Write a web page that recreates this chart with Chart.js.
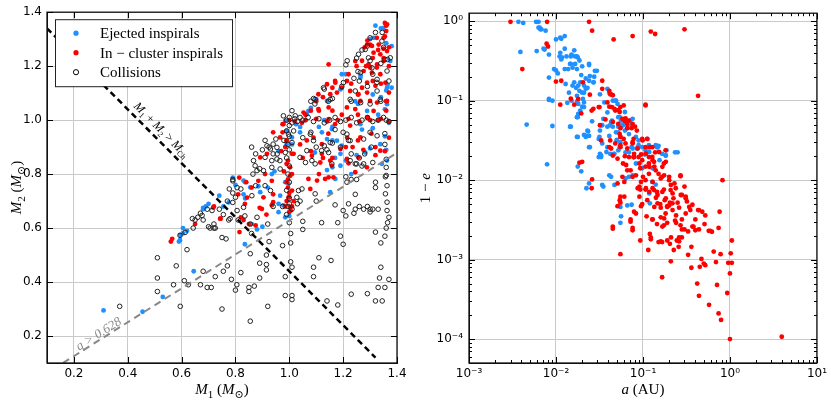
<!DOCTYPE html>
<html><head><meta charset="utf-8">
<script src="https://cdn.jsdelivr.net/npm/chart.js@4.4.1/dist/chart.umd.min.js"></script>
<style>
html,body{margin:0;padding:0;background:#fff;}
body{width:831px;height:403px;overflow:hidden;position:relative;}
#c1{position:absolute;left:0;top:0;width:415px;height:403px;}
#c2{position:absolute;left:415px;top:0;width:416px;height:403px;}
</style>
</head><body>
<canvas id="c1" width="415" height="403"></canvas>
<canvas id="c2" width="416" height="403"></canvas>
<script>
// ---------------- LEFT PANEL DATA: [M1, M2] ----------------
const ejectedMass = [
[0.31,0.295],[0.455,0.29],[0.53,0.345],[0.645,0.44],[0.605,0.58],[0.59,0.55],[0.595,0.575],[0.62,0.59],[0.68,0.675],[0.69,0.68],
[0.775,0.695],[0.835,0.54],[0.88,0.595],[0.90,0.605],[0.96,0.69],[0.985,0.64],[1.0,0.645],[0.86,0.615],
[1.32,1.35],[1.34,1.34],[1.30,1.30],[1.36,1.285],[1.21,1.17],[1.265,1.165],[1.36,1.11],[1.365,1.13],[1.36,1.07],[1.34,1.085],
[1.31,1.095],[1.245,1.07],[1.255,1.06],[1.08,1.045],[1.13,1.0],[1.355,1.04],[1.16,0.975],[1.11,0.975],[1.04,0.975],[1.14,0.93],
[1.16,0.925],[1.27,0.965],[1.31,0.97],[1.355,0.94],[1.25,0.87],[1.21,0.85],[1.30,0.895],[1.36,0.89],[1.19,0.875],[1.17,0.86],
[1.095,0.88],[1.14,0.815],[1.16,0.825],[1.04,0.955],[1.025,0.985],[0.96,0.885],[0.945,0.81],[0.935,0.80],[0.885,0.755],[0.83,0.725],
[0.92,0.75],[0.985,0.77],[1.01,0.91],[1.23,0.80],[0.79,0.787],[0.836,0.77],[0.836,0.71],[0.755,0.68],[0.68,0.67],[0.605,0.60],
[0.594,0.555],[0.70,0.69],[0.74,0.72],[0.80,0.76],[1.37,0.99],[1.33,1.02],[1.06,1.0],
[1.065,1.022],[1.121,0.955],[1.158,0.967],[1.177,0.924],[1.195,0.905],[1.264,0.985],[1.282,0.88],[1.338,0.911],[1.363,0.85],[1.344,0.838],
[1.19,0.831],[1.152,0.733],[1.171,0.782],[0.99,0.911],[1.01,0.936],[0.99,0.96],[0.985,0.997],[0.83,0.776],[0.855,0.751],[0.892,0.733],
[0.966,0.72],[0.978,0.684],[0.96,0.659],[0.997,0.764],[1.35,1.342],[1.313,1.305],[1.38,1.274],[1.375,1.219],[1.38,1.12],[1.363,1.12],
[1.264,1.157],[1.195,1.17],[1.19,1.114],[1.14,1.071],[1.363,1.059],[1.289,1.034],[1.071,1.034],[1.10,1.077]
];
const inClusterMass = [
[1.355,1.36],[1.36,1.35],[1.36,1.33],[1.355,1.31],[1.325,1.305],[1.29,1.295],[1.30,1.28],[1.28,1.27],[1.33,1.26],[1.35,1.265],
[1.31,1.23],[1.27,1.22],[1.285,1.20],[1.325,1.195],[1.30,1.195],[1.35,1.23],[1.31,1.145],[1.34,1.135],[1.22,1.17],[1.23,1.135],
[1.27,1.12],[1.255,1.095],[1.17,1.145],[1.16,1.12],[1.125,1.085],[1.10,1.07],[1.11,1.035],[1.08,1.035],[1.06,1.02],[1.16,1.035],
[1.195,1.02],[1.255,1.02],[1.29,1.01],[1.36,1.07],[1.36,1.035],
[1.0,1.0],[1.02,0.995],[1.06,1.0],[1.10,1.005],[1.14,0.995],[1.18,1.0],[1.22,1.005],[1.26,0.995],[1.30,1.0],[1.34,1.005],[1.37,0.995],
[1.04,0.91],[1.065,0.925],[1.09,0.935],[1.145,0.95],[1.17,0.985],[1.215,0.935],[1.235,0.90],[1.255,0.925],[1.305,0.95],[1.37,0.935],
[1.355,0.885],[1.32,0.87],[1.275,0.89],[1.22,0.84],[1.21,0.90],[1.16,0.86],[1.125,0.86],[1.08,0.885],[1.05,0.86],[1.11,0.80],[1.01,0.80],
[0.975,0.985],[0.975,0.955],[0.99,0.925],[0.97,0.885],[0.995,0.85],[0.98,0.81],[0.935,0.775],[0.91,0.80],[0.885,0.775],[0.86,0.75],
[0.84,0.77],[0.81,0.725],[0.94,0.725],[0.995,0.75],[1.0,0.715],[1.01,0.875],
[0.56,0.55],[0.565,0.56],[0.65,0.615],[0.72,0.68],[0.745,0.635],[0.815,0.585],[0.82,0.64],[0.835,0.69],[0.85,0.615],[0.875,0.61],
[0.89,0.675],[0.915,0.65],[0.935,0.685],[1.0,0.66],[1.005,0.665],[1.01,0.68],[0.985,0.68],[0.717,0.676],[0.743,0.635],[0.814,0.787],
[0.843,0.713],[0.83,0.63],[0.99,0.70],[1.0,0.73],[0.995,0.78],[0.985,0.90],[1.37,1.27],[1.37,1.2],
[0.978,0.985],[1.047,0.99],[1.146,1.004],[1.226,0.98],[1.33,1.0],[1.264,0.936],[1.32,0.90],[1.338,0.887],[1.257,0.862],[1.214,0.856],
[1.19,0.893],[1.121,0.911],[1.121,0.875],[1.115,0.843],[1.084,0.868],[1.152,0.85],[1.158,0.831],[1.164,0.788],[1.146,0.788],[1.245,0.807],
[1.288,0.825],[1.103,0.776],[1.071,0.782],[1.003,0.825],[1.016,0.875],[0.99,0.924],[0.99,0.838],[1.003,0.794],[0.99,0.77],[1.01,0.739],
[0.997,0.714],[1.016,0.70],[1.003,0.677],[0.898,0.671],[0.904,0.714],[0.94,0.696],[0.892,0.862],[0.917,0.875],[0.94,0.955],[0.966,0.936],
[1.078,0.745],[1.133,0.782],
[1.363,1.355],[1.35,1.305],[1.332,1.28],[1.307,1.275],[1.289,1.28],[1.313,1.25],[1.338,1.244],[1.363,1.256],[1.35,1.219],[1.326,1.207],
[1.294,1.207],[1.276,1.182],[1.307,1.176],[1.338,1.17],[1.357,1.139],[1.37,1.102],[1.32,1.127],[1.289,1.139],[1.245,1.219],[1.25,1.20],
[1.214,1.145],[1.226,1.108],[1.257,1.096],[1.289,1.102],[1.264,1.071],[1.30,1.071],[1.326,1.065],[1.363,1.071],[1.195,1.12],[1.177,1.102],
[1.152,1.096],[1.14,1.133],[1.171,1.139],[1.108,1.041],[1.146,1.047],[1.108,1.096],[1.214,1.047],[1.245,1.041],[1.313,1.034],[1.053,1.028],
[1.146,1.207]
];
const collisionMass = [
[0.37,0.31],[0.51,0.49],[0.51,0.415],[0.51,0.365],[0.58,0.46],[0.595,0.31],[0.61,0.405],[0.62,0.52],[0.625,0.39],[0.57,0.39],
[0.67,0.39],[0.68,0.44],[0.695,0.38],[0.71,0.38],[0.725,0.42],[0.75,0.565],[0.765,0.56],[0.75,0.30],[0.755,0.44],[0.77,0.46],
[0.785,0.41],[0.805,0.39],[0.80,0.37],[0.82,0.435],[0.85,0.38],[0.85,0.365],[0.855,0.255],[0.855,0.505],[0.87,0.385],[0.89,0.47],
[0.89,0.415],[0.915,0.50],[0.915,0.465],[0.915,0.445],[0.92,0.31],[0.925,0.55],[0.975,0.535],[0.985,0.42],[0.985,0.35],[1.005,0.475],
[1.005,0.545],[1.005,0.58],[1.01,0.455],[1.01,0.35],[1.01,0.335],[1.05,0.595],[1.05,0.625],[1.09,0.42],[1.09,0.455],[1.11,0.49],
[1.12,0.62],[1.14,0.33],[1.155,0.48],[1.18,0.315],[1.18,0.62],[1.19,0.57],[1.20,0.54],[1.21,0.645],[1.23,0.355],[1.24,0.655],
[1.29,0.357],[1.30,0.66],[1.32,0.585],[1.32,0.33],[1.33,0.38],[1.335,0.415],[1.34,0.455],[1.34,0.545],[1.345,0.33],[1.355,0.38],
[1.355,0.57],[1.365,0.62],[1.37,0.64],[1.37,0.41],[1.36,0.60],[1.31,0.67],[1.33,0.67],[1.29,0.68],[1.26,0.68],[1.22,0.69],
[0.64,0.635],[0.66,0.64],[0.67,0.655],[0.68,0.63],[0.70,0.605],[0.72,0.615],[0.72,0.60],[0.74,0.67],[0.755,0.65],[0.775,0.63],
[0.79,0.695],[0.81,0.63],[0.835,0.645],[0.855,0.615],[0.86,0.58],[0.88,0.64],[0.92,0.615],[0.94,0.68],[0.975,0.68],[1.01,0.67],
[1.03,0.69],[1.0,0.69],[0.79,0.78],[0.806,0.75],[0.79,0.73],[0.82,0.745],[0.77,0.70],[0.806,0.665],[0.695,0.67],[0.713,0.665],
[0.676,0.647],[0.65,0.63],[0.643,0.60],[0.613,0.584],[0.594,0.573],[0.706,0.60],[0.725,0.60],[0.78,0.635],
[0.777,0.745],[0.79,0.775],[0.80,0.714],[0.86,0.90],[0.875,0.875],[0.90,0.89],[0.91,0.925],[0.925,0.90],[0.935,0.85],[0.95,0.93],
[0.955,0.875],[0.98,0.925],[0.985,0.88],[0.965,0.85],[0.865,0.80],[0.89,0.82],[0.875,0.757],[0.91,0.757],[0.935,0.825],[1.01,1.035],
[1.04,1.01],[1.08,1.07],[1.09,1.08],[1.095,1.06],[1.13,1.115],[1.145,1.07],[1.16,1.08],[1.195,1.125],[1.21,1.205],[1.215,1.22],
[1.25,1.23],[1.255,1.18],[1.26,1.145],[1.27,1.26],[1.29,1.275],[1.30,1.305],[1.32,1.325],[1.345,1.325],[1.35,1.27],[1.355,1.225],
[1.365,1.225],[1.34,1.21],[1.30,1.22],[1.31,1.17],[1.325,1.14],[1.29,1.125],[1.24,1.155],[1.23,1.07],[1.265,1.065],[1.30,1.06],
[1.34,1.07],[1.355,0.95],[1.355,0.91],[1.36,0.855],[1.36,0.825],[1.36,0.795],[1.305,0.90],[1.28,0.875],[1.26,0.86],[1.23,0.875],
[1.22,0.925],[1.245,0.838],[1.27,0.83],[1.19,0.90],[1.16,0.915],[1.14,0.89],[1.13,0.905],[1.10,0.90],[1.08,0.955],[1.05,0.935],
[1.21,0.79],[1.23,0.78],[1.32,0.77],[1.245,0.725],[1.17,0.965],[1.20,0.955],
[0.99,1.0],[1.0,1.01],[1.01,0.99],[1.02,1.005],[1.03,0.995],[1.05,1.0],[1.07,1.01],[1.09,0.995],[1.11,1.005],[1.13,0.99],
[1.15,1.0],[1.17,1.01],[1.19,0.995],[1.21,1.0],[1.23,1.01],[1.25,0.99],[1.27,1.0],[1.29,1.01],[1.31,0.995],[1.33,1.0],
[1.35,1.01],[1.37,0.995],[1.36,1.0],[1.0,0.98],
[0.99,0.96],[1.0,0.94],[0.995,0.91],[1.0,0.89],[0.99,0.86],[1.0,0.83],[0.995,0.80],[1.0,0.77],[0.99,0.74],[1.0,0.71],
[0.995,0.68],[0.99,0.65],[1.0,0.62],
[1.226,0.85],[1.25,0.838],[1.276,0.838],[1.31,0.843],[1.357,0.79],[1.363,0.757],[1.32,0.75],[1.214,0.77],[1.25,0.78],[1.17,0.686],
[1.20,0.665],[1.245,0.67],[1.276,0.67],[1.30,0.67],[1.357,0.727],[1.363,0.696],[1.363,0.665],[1.276,0.93],[1.30,0.955],[1.326,0.942],
[1.214,0.948],[1.226,0.924],[1.078,0.948],[1.09,0.924],[1.065,0.887],[1.04,0.862],[1.06,0.843],[1.096,0.838],[1.158,0.838],[1.146,0.88],
[1.12,0.887],[1.152,0.917],[0.867,0.85],[0.873,0.831],[0.88,0.813],[0.904,0.813],[0.917,0.905],[0.93,0.893],[0.94,0.911],[0.954,0.899],
[0.94,0.875],[0.954,0.856],[0.91,0.862],[0.966,0.819],[0.83,0.677],[0.861,0.72],[0.93,0.739],[1.034,0.739],[1.047,0.745],[1.028,0.714],
[1.04,0.70],[1.10,0.70],[1.096,0.727],[1.084,0.85],[0.978,1.016],[1.022,1.016],[0.997,0.948],[1.01,0.917],[1.016,0.96],
[1.257,1.244],[1.282,1.262],[1.344,1.293],[1.375,1.231],[1.363,1.182],[1.37,1.145],[1.326,1.151],[1.307,1.194],[1.264,1.176],[1.294,1.231],
[1.127,1.12],[1.096,1.077],[1.152,1.077],[1.226,1.077],[1.245,1.108],[1.201,1.139],[1.338,1.077],[1.326,1.108]
];
// reference lines
const chandraX = [0.1, 1.32];
const chandraY = [1.34, 0.12];
const qLineX = [0.16, 1.4];
const qLineY = [0.1005, 0.879];
const massTicks = [0.2,0.4,0.6,0.8,1.0,1.2,1.4];

// ---------------- RIGHT PANEL DATA: [a (AU), 1-e] ----------------
const ejectedOrbit = [
[0.0037,0.98],[0.0042,0.95],[0.0059,0.98],[0.0063,0.98],[0.0065,0.83],[0.0068,0.79],[0.0076,0.76],[0.0039,0.41],[0.006,0.42],[0.0074,0.44],
[0.0083,0.38],[0.0083,0.195],[0.0083,0.102],[0.0091,0.10],[0.0046,0.050],[0.0091,0.048],[0.0079,0.0158],[0.010,0.59],[0.0115,0.60],[0.0126,0.65],
[0.011,0.36],[0.0115,0.33],[0.0126,0.45],[0.0148,0.36],[0.0162,0.43],[0.0148,0.29],[0.0155,0.26],[0.0178,0.35],[0.0186,0.32],[0.020,0.27],
[0.024,0.28],[0.0095,0.25],[0.0105,0.22],[0.0129,0.162],[0.0155,0.155],[0.017,0.145],[0.0186,0.133],[0.021,0.126],[0.023,0.145],[0.0275,0.20],
[0.0295,0.237],[0.022,0.19],[0.0195,0.21],[0.0162,0.17],[0.0204,0.105],[0.020,0.084],[0.0178,0.062],[0.0148,0.047],[0.0178,0.035],[0.021,0.037],
[0.0234,0.041],[0.024,0.026],[0.022,0.035],[0.033,0.0195],[0.0316,0.035],[0.033,0.049],[0.035,0.059],[0.039,0.071],[0.043,0.054],[0.045,0.047],
[0.049,0.040],[0.054,0.062],[0.051,0.091],[0.049,0.10],[0.039,0.141],[0.045,0.10],[0.058,0.049],[0.069,0.038],[0.076,0.059],[0.083,0.035],
[0.089,0.0316],[0.098,0.026],[0.117,0.0275],[0.151,0.027],[0.182,0.0204],[0.25,0.0224],[0.155,0.0178],[0.129,0.0141],[0.098,0.0141],[0.083,0.0162],
[0.076,0.025],[0.054,0.026],[0.047,0.0214],[0.041,0.0115],[0.043,0.011],[0.069,0.011],[0.024,0.0091],[0.0224,0.0079],[0.034,0.0087],[0.0178,0.0148],
[0.0195,0.0129],[0.055,0.0046],[0.055,0.0029],[0.066,0.0048],[0.074,0.0049],[0.12,0.0051],[0.027,0.17],[0.032,0.12],[0.036,0.095],[0.062,0.072],
[0.066,0.045],[0.105,0.021],[0.112,0.033],[0.14,0.0275],[0.05,0.032],[0.026,0.055],[0.0135,0.094],[0.0175,0.098],
[0.0063,0.83],[0.0066,0.79],[0.0072,0.45],[0.0112,0.62],[0.010,0.24],[0.0112,0.40],[0.0117,0.35],[0.0132,0.36],[0.0151,0.38],[0.0166,0.36],
[0.0174,0.36],[0.0166,0.29],[0.0145,0.29],[0.0138,0.25],[0.0126,0.25],[0.0174,0.25],[0.024,0.29],[0.028,0.237],[0.0245,0.204],[0.024,0.178],
[0.027,0.17],[0.019,0.17],[0.018,0.155],[0.021,0.155],[0.022,0.141],[0.020,0.126],[0.0141,0.126],[0.0174,0.115],[0.0151,0.10],[0.018,0.091],
[0.021,0.095],[0.0083,0.105],[0.0145,0.047],[0.0174,0.062],[0.018,0.068],[0.019,0.075],[0.021,0.083],[0.023,0.042],[0.024,0.036],[0.022,0.036],
[0.0174,0.035],[0.0245,0.026],[0.031,0.0195],[0.032,0.0214],[0.032,0.042],[0.034,0.049],[0.031,0.033],[0.034,0.029],[0.039,0.047],[0.039,0.026],
[0.042,0.0214],[0.046,0.0214],[0.052,0.0237],[0.055,0.030],[0.050,0.0316],[0.041,0.036],[0.042,0.049],[0.044,0.056],[0.052,0.062],[0.056,0.056],
[0.059,0.049],[0.071,0.056],[0.074,0.049],[0.062,0.042],[0.052,0.040],[0.052,0.047],[0.041,0.126],[0.048,0.10],[0.063,0.0224],[0.069,0.0224],
[0.078,0.0195],[0.074,0.026],[0.085,0.025],[0.089,0.0275],[0.107,0.0237],[0.115,0.026],[0.145,0.026],[0.166,0.0214],[0.186,0.0237],[0.234,0.0224],
[0.056,0.0035],[0.035,0.0083],[0.047,0.0087],[0.118,0.0068],[0.147,0.026],[0.183,0.0204],[0.118,0.0226],[0.076,0.0115],[0.063,0.0105],[0.033,0.0204],
[0.038,0.0226],[0.128,0.0095],[0.14,0.0088]
];
const inClusterOrbit = [
[0.0030,0.98],[0.0079,0.98],[0.024,0.98],[0.026,0.76],[0.046,0.59],[0.076,0.65],[0.123,0.74],[0.138,0.69],[0.30,0.79],[0.0078,0.52],
[0.0081,0.48],[0.0041,0.25],[0.010,0.174],[0.0115,0.178],[0.0112,0.089],[0.0148,0.106],[0.0162,0.089],[0.0195,0.069],[0.0204,0.17],[0.0245,0.119],
[0.0269,0.079],[0.0316,0.083],[0.034,0.178],[0.034,0.141],[0.041,0.084],[0.043,0.12],[0.045,0.117],[0.047,0.079],[0.054,0.072],[0.055,0.083],
[0.037,0.058],[0.045,0.054],[0.058,0.059],[0.062,0.055],[0.066,0.045],[0.076,0.051],[0.054,0.038],[0.055,0.035],[0.060,0.033],[0.055,0.0275],
[0.063,0.029],[0.076,0.030],[0.087,0.025],[0.095,0.021],[0.107,0.089],[0.042,0.0316],[0.043,0.025],[0.041,0.026],[0.062,0.020],[0.079,0.0195],
[0.089,0.0195],[0.098,0.0178],[0.117,0.0195],[0.129,0.0178],[0.135,0.0148],[0.117,0.0162],[0.107,0.0148],[0.093,0.0141],[0.117,0.012],[0.151,0.012],
[0.174,0.0162],[0.059,0.0162],[0.066,0.0133],[0.058,0.011],[0.076,0.011],[0.100,0.011],[0.107,0.010],[0.129,0.0095],[0.166,0.011],[0.20,0.011],
[0.27,0.0112],[0.026,0.0102],[0.0257,0.0079],[0.0186,0.0166],[0.020,0.017],[0.033,0.0316],[0.82,0.010],[0.43,0.115],[0.051,0.0186],[0.045,0.0204],
[0.087,0.0079],[0.093,0.0076],[0.107,0.0076],[0.129,0.0079],[0.145,0.0071],[0.174,0.0076],[0.209,0.0087],[0.219,0.0068],[0.28,0.0065],[0.31,0.0062],
[0.055,0.0062],[0.112,0.0056],[0.141,0.006],[0.178,0.0056],[0.224,0.0059],[0.25,0.0052],[0.158,0.005],[0.20,0.0048],
[0.045,0.00245],[0.051,0.0047],[0.055,0.0052],[0.072,0.0030],[0.076,0.00234],[0.079,0.0040],[0.083,0.0038],[0.055,0.00117],[0.093,0.00174],[0.098,0.0050],
[0.115,0.00132],[0.120,0.0021],[0.123,0.0018],[0.129,0.0032],[0.151,0.00166],[0.166,0.00166],[0.166,0.0006],[0.174,0.0027],[0.182,0.0038],[0.19,0.0046],
[0.204,0.0052],[0.219,0.0042],[0.209,0.00095],[0.19,0.00174],[0.204,0.00158],[0.226,0.00132],[0.245,0.00174],[0.257,0.00145],[0.234,0.0031],[0.27,0.0027],
[0.28,0.0019],[0.31,0.0038],[0.34,0.0046],[0.33,0.00115],[0.36,0.00145],[0.36,0.00079],[0.38,0.0026],[0.40,0.00234],[0.42,0.0005],[0.44,0.00035],
[0.45,0.00081],[0.47,0.00102],[0.48,0.0040],[0.50,0.00089],[0.51,0.0028],[0.52,0.00085],[0.575,0.00027],[0.59,0.0023],[0.62,0.00224],[0.65,0.00126],
[0.69,0.00093],[0.71,0.00048],[0.74,0.00021],[0.76,0.0040],[0.78,0.00117],[0.79,0.000174],[0.93,0.00038],[0.955,0.00091],[1.0,0.00067],[1.0,0.0001],
[1.02,0.0012],[1.05,0.00174],[1.05,0.00091],[3.94,0.000107],[0.33,0.00226],[0.135,0.0046],[0.43,0.0042],[0.16,0.0034],[0.24,0.0036],[0.145,0.0028],
[0.30,0.0024],[0.11,0.0035],[0.19,0.0029],[0.26,0.0017],
[0.041,0.133],[0.042,0.12],[0.039,0.095],[0.044,0.083],[0.048,0.075],[0.052,0.076],[0.060,0.087],[0.063,0.060],[0.069,0.056],[0.066,0.051],
[0.074,0.045],[0.081,0.047],[0.085,0.042],[0.078,0.033],[0.098,0.033],[0.112,0.033],[0.107,0.026],[0.12,0.026],[0.138,0.0224],[0.182,0.0237],
[0.052,0.051],[0.055,0.045],[0.055,0.035],[0.048,0.029],[0.055,0.026],[0.066,0.025],[0.069,0.0195],[0.078,0.0195],[0.0257,0.075],[0.031,0.083],
[0.032,0.049],[0.018,0.105],[0.107,0.087],
[0.108,0.0215],[0.128,0.0196],[0.134,0.017],[0.118,0.0147],[0.14,0.0133],[0.16,0.0105],[0.175,0.0115],[0.20,0.010],[0.108,0.0079],[0.118,0.0071],
[0.134,0.0075],[0.147,0.0065],[0.167,0.0071],[0.183,0.0059],[0.208,0.0075],[0.238,0.0079],[0.272,0.0065],[0.31,0.0059],[0.218,0.0051],[0.19,0.0047],
[0.16,0.0045],[0.147,0.0051],[0.26,0.0045],[0.37,0.0049],[0.44,0.0042],[0.35,0.0042],[0.52,0.0036],[0.40,0.0032],[0.28,0.0032],[0.24,0.0029],
[0.175,0.0033],[0.128,0.0032],[0.167,0.0026],[0.28,0.0024],[0.37,0.0026],[0.44,0.0024],[0.57,0.0023],[0.74,0.0025],[0.21,0.0019],[0.16,0.0017],
[0.26,0.0019],[0.123,0.0019],[0.076,0.0025],[0.072,0.0032],[0.045,0.0026],[0.054,0.0056],[0.061,0.0062],[0.091,0.0083],[0.091,0.0062],[0.095,0.0047],
[0.072,0.0133],[0.083,0.0115],[0.095,0.0095],[0.061,0.0095],[0.051,0.0091],[0.064,0.0155],[0.091,0.0162],[0.079,0.0214],[0.167,0.0147],[0.183,0.017],
[0.153,0.0226],[0.128,0.026],[0.099,0.0316],[0.076,0.029],[0.27,0.0115],[0.23,0.0091],[0.30,0.0083],[0.32,0.0054]
];
const decadeTicksX = [0.001,0.01,0.1,1,10];
const decadeTicksY = [0.0001,0.001,0.01,0.1,1];

// ---------------- helpers ----------------
const BLUE = '#1E90FF', RED = '#FF0000';
const SERIF = "'Liberation Serif','DejaVu Serif',serif";
const SANS = "'DejaVu Sans',sans-serif";
const toPts = arr => arr.map(p => ({x:p[0], y:p[1]}));
const SUP = {'-':'\u207B','0':'\u2070','1':'\u00B9','2':'\u00B2','3':'\u00B3','4':'\u2074','5':'\u2075'};
const powLabel = v => { const e = Math.round(Math.log10(v)); return '10' + String(e).split('').map(c=>SUP[c]).join(''); };

function drawRich(ctx, parts, x, y, angle, size, color) {
  ctx.save();
  ctx.translate(x, y); ctx.rotate(angle);
  ctx.fillStyle = color; ctx.textBaseline = 'alphabetic'; ctx.textAlign = 'left';
  const f = p => (p[2] ? 'italic ' : '') + (p[1]==='sub' ? Math.round(size*0.7) : size) + 'px ' + SERIF;
  let total = 0;
  parts.forEach(p => { ctx.font = f(p); total += ctx.measureText(p[0]).width; });
  let cx = -total/2;
  parts.forEach(p => {
    ctx.font = f(p);
    ctx.fillText(p[0], cx, size*0.35 + (p[1]==='sub' ? size*0.22 : 0));
    cx += ctx.measureText(p[0]).width;
  });
  ctx.restore();
}

function inwardTicks(chart, xs, ys, len) {
  const {ctx, chartArea:a, scales:{x, y}} = chart;
  ctx.save(); ctx.strokeStyle = '#000'; ctx.lineWidth = 1; ctx.beginPath();
  xs.forEach(v => { const p = Math.round(x.getPixelForValue(v)) + 0.5;
    ctx.moveTo(p, a.bottom); ctx.lineTo(p, a.bottom - len); ctx.moveTo(p, a.top); ctx.lineTo(p, a.top + len); });
  ys.forEach(v => { const p = Math.round(y.getPixelForValue(v)) + 0.5;
    ctx.moveTo(a.left, p); ctx.lineTo(a.left + len, p); ctx.moveTo(a.right, p); ctx.lineTo(a.right - len, p); });
  ctx.stroke(); ctx.restore();
}
function frame(chart) {
  const {ctx, chartArea:a} = chart;
  ctx.save(); ctx.strokeStyle = '#111'; ctx.lineWidth = 1.3;
  ctx.strokeRect(a.left, a.top, a.right - a.left, a.bottom - a.top);
  ctx.restore();
}
function logMinors(min, max) {
  const out = [];
  for (let d = Math.floor(Math.log10(min)); d <= Math.ceil(Math.log10(max)); d++)
    for (let k = 2; k <= 9; k++) { const v = k * Math.pow(10, d); if (v > min && v < max) out.push(v); }
  return out;
}

// ---------------- LEFT CHART ----------------
const leftPlugin = {
  id: 'leftDecor',
  afterDatasetsDraw(chart) {
    const {ctx, chartArea:a, scales:{x, y}} = chart;
    frame(chart);
    inwardTicks(chart, massTicks, massTicks, 6);
    const ang1 = Math.atan2(y.getPixelForValue(chandraY[1]) - y.getPixelForValue(chandraY[0]),
                            x.getPixelForValue(chandraX[1]) - x.getPixelForValue(chandraX[0]));
    drawRich(ctx, [['M','n',true],['1','sub',false],[' + ','n',false],['M','n',true],['2','sub',false],[' > ','n',false],['M','n',true],['Ch','sub',false]],
      x.getPixelForValue(0.527), y.getPixelForValue(0.965), ang1, 12, '#000');
    const ang2 = Math.atan2(y.getPixelForValue(qLineY[1]) - y.getPixelForValue(qLineY[0]),
                            x.getPixelForValue(qLineX[1]) - x.getPixelForValue(qLineX[0]));
    drawRich(ctx, [['q','n',true],[' > 0.628','n',true]], x.getPixelForValue(0.29), y.getPixelForValue(0.21), ang2, 13, '#888');
    // legend
    const L = a.left + 8, T = a.top + 7, W = 177, H = 67;
    ctx.save();
    ctx.fillStyle = '#fff'; ctx.fillRect(L, T, W, H);
    ctx.strokeStyle = '#222'; ctx.lineWidth = 1; ctx.strokeRect(L + 0.5, T + 0.5, W, H);
    const ds = chart.data.datasets.slice(0, 3);
    ds.forEach((d, i) => {
      const cy = T + 14 + i * 19.5;
      ctx.beginPath(); ctx.arc(L + 21, cy, 2.6, 0, Math.PI*2);
      if (d.borderWidth > 0) { ctx.strokeStyle = '#000'; ctx.lineWidth = 1; ctx.stroke(); }
      else { ctx.fillStyle = d.backgroundColor; ctx.fill(); }
      ctx.fillStyle = '#000'; ctx.font = '15px ' + SERIF; ctx.textBaseline = 'middle'; ctx.textAlign = 'left';
      ctx.fillText(d.label, L + 45, cy + 1);
    });
    ctx.restore();
    drawRich(ctx, [['M','n',true],['1','sub',false],[' (','n',false],['M','n',true],['\u2299','sub',false],[')','n',false]],
      (a.left + a.right)/2, a.bottom + 26, 0, 15, '#000');
    drawRich(ctx, [['M','n',true],['2','sub',false],[' (','n',false],['M','n',true],['\u2299','sub',false],[')','n',false]],
      a.left - 31, (a.top + a.bottom)/2, -Math.PI/2, 15, '#000');
  }
};

new Chart(document.getElementById('c1'), {
  type: 'scatter',
  data: { datasets: [
    { label: 'Ejected inspirals', data: toPts(ejectedMass), backgroundColor: BLUE, borderWidth: 0, pointRadius: 2.4, order: 3 },
    { label: 'In \u2212 cluster inspirals', data: toPts(inClusterMass), backgroundColor: RED, borderWidth: 0, pointRadius: 2.4, order: 2 },
    { label: 'Collisions', data: toPts(collisionMass), backgroundColor: 'rgba(0,0,0,0)', borderColor: '#222', borderWidth: 1, pointRadius: 2.3, order: 1 },
    { label: 'chandra', type: 'line', data: chandraX.map((v,i)=>({x:v, y:chandraY[i]})), borderColor: '#000', borderWidth: 2.5, borderDash: [6,4], pointRadius: 0, order: 0 },
    { label: 'q', type: 'line', data: qLineX.map((v,i)=>({x:v, y:qLineY[i]})), borderColor: '#888', borderWidth: 2, borderDash: [7,5], pointRadius: 0, order: 0 }
  ]},
  options: {
    responsive: false, animation: false, devicePixelRatio: 1,
    layout: { padding: { top: 11, right: 18, left: 0, bottom: 0 } },
    plugins: { legend: { display: false }, tooltip: { enabled: false } },
    scales: {
      x: { type: 'linear', min: 0.1, max: 1.4,
        afterBuildTicks: s => { s.ticks = massTicks.map(v => ({value: v})); },
        afterFit: s => { s.height = 40; },
        ticks: { callback: v => Number(v).toFixed(1), font: { family: SANS, size: 12 }, color: '#000', padding: 4, maxRotation: 0 },
        grid: { color: '#c9c9c9', lineWidth: 1, drawTicks: false },
        border: { color: '#111', width: 1 } },
      y: { type: 'linear', min: 0.1, max: 1.4,
        afterBuildTicks: s => { s.ticks = massTicks.map(v => ({value: v})); },
        afterFit: s => { s.width = 47; },
        ticks: { callback: v => Number(v).toFixed(1), font: { family: SANS, size: 12 }, color: '#000', padding: 5 },
        grid: { color: '#c9c9c9', lineWidth: 1, drawTicks: false },
        border: { color: '#111', width: 1 } }
    }
  },
  plugins: [leftPlugin]
});

// ---------------- RIGHT CHART ----------------
const rightPlugin = {
  id: 'rightDecor',
  afterDatasetsDraw(chart) {
    const {ctx, chartArea:a, scales:{x, y}} = chart;
    frame(chart);
    inwardTicks(chart, decadeTicksX, decadeTicksY, 6);
    inwardTicks(chart, logMinors(x.min, x.max), logMinors(y.min, y.max), 3);
    drawRich(ctx, [['a','n',true],[' (AU)','n',false]], (a.left + a.right)/2, a.bottom + 26, 0, 15, '#000');
    drawRich(ctx, [['1 \u2212 ','n',false],['e','n',true]], a.left - 44, (a.top + a.bottom)/2, -Math.PI/2, 15, '#000');
  }
};

new Chart(document.getElementById('c2'), {
  type: 'scatter',
  data: { datasets: [
    { label: 'Ejected inspirals', data: toPts(ejectedOrbit), backgroundColor: BLUE, borderWidth: 0, pointRadius: 2.4, order: 2 },
    { label: 'In \u2212 cluster inspirals', data: toPts(inClusterOrbit), backgroundColor: RED, borderWidth: 0, pointRadius: 2.4, order: 1 }
  ]},
  options: {
    responsive: false, animation: false, devicePixelRatio: 1,
    layout: { padding: { top: 12, right: 12, left: 0, bottom: 0 } },
    plugins: { legend: { display: false }, tooltip: { enabled: false } },
    scales: {
      x: { type: 'logarithmic', min: 0.001, max: 10,
        afterBuildTicks: s => { s.ticks = decadeTicksX.map(v => ({value: v, major: true})); },
        afterFit: s => { s.height = 40; },
        ticks: { callback: v => powLabel(v), font: { family: SANS, size: 12 }, color: '#000', padding: 4, maxRotation: 0, autoSkip: false },
        grid: { color: '#c9c9c9', lineWidth: 1, drawTicks: false },
        border: { color: '#111', width: 1 } },
      y: { type: 'logarithmic', min: 0.00005, max: 1.26,
        afterBuildTicks: s => { s.ticks = decadeTicksY.map(v => ({value: v, major: true})); },
        afterFit: s => { s.width = 54; },
        ticks: { callback: v => powLabel(v), font: { family: SANS, size: 12 }, color: '#000', padding: 6, autoSkip: false },
        grid: { color: '#c9c9c9', lineWidth: 1, drawTicks: false },
        border: { color: '#111', width: 1 } }
    }
  },
  plugins: [rightPlugin]
});
</script>
</body></html>
